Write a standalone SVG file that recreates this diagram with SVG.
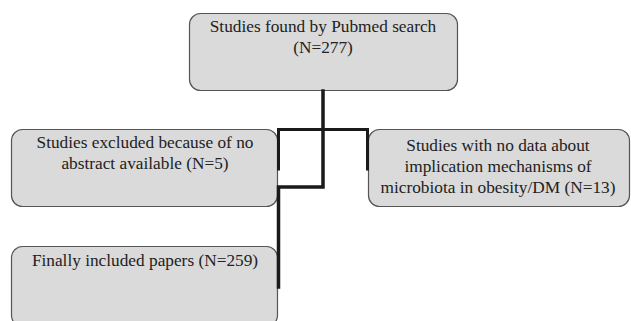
<svg xmlns="http://www.w3.org/2000/svg" width="631" height="321" viewBox="0 0 631 321">
<style>
.box{fill:#dadada;stroke:#555;stroke-width:1.2}
.t{font-family:"Liberation Serif","Times New Roman",serif;font-size:17.3px;fill:#222;text-anchor:middle}
.c{fill:none;stroke:#1a1a1a;stroke-width:3;stroke-linecap:square;stroke-linejoin:miter}
</style>
<rect width="631" height="321" fill="#fff"/>
<g id="node-top">
<rect class="box" x="189.5" y="13.5" width="268" height="77" rx="11"/>
<text class="t" x="323" y="32">Studies found by Pubmed search</text>
<text class="t" x="323" y="53">(N=277)</text>
</g>
<g id="node-excluded">
<rect class="box" x="11.5" y="129.5" width="266" height="77" rx="11"/>
<text class="t" x="145" y="148">Studies excluded because of no</text>
<text class="t" x="145" y="169">abstract available (N=5)</text>
</g>
<g id="node-nodata">
<rect class="box" x="368.5" y="129.5" width="261" height="77" rx="11"/>
<text class="t" x="498" y="151">Studies with no data about</text>
<text class="t" x="498" y="172">implication mechanisms of</text>
<text class="t" x="498" y="193">microbiota in obesity/DM (N=13)</text>
</g>
<g id="node-included">
<rect class="box" x="11.5" y="246.5" width="266" height="80" rx="11"/>
<text class="t" x="145" y="266">Finally included papers (N=259)</text>
</g>
<g id="connectors">
<path class="c" d="M323 91 V187 H278.5 V287" style="stroke-width:3.5"/>
<path class="c" d="M278.5 169 V129.5 H367.5 V169"/>
</g>
</svg>
